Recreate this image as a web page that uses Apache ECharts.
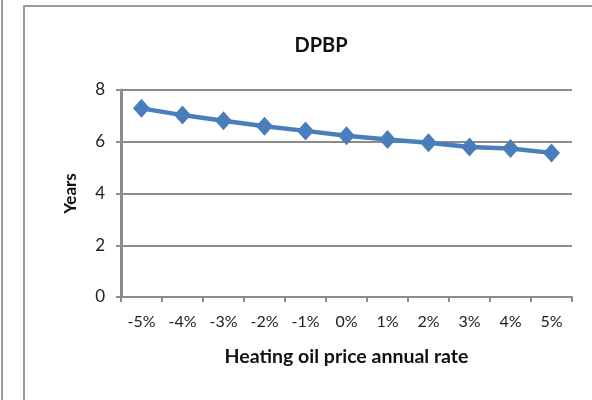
<!DOCTYPE html>
<html><head><meta charset="utf-8">
<script src="https://cdn.jsdelivr.net/npm/echarts@6/dist/echarts.min.js"></script>
<style>html,body{margin:0;padding:0;background:#fff}#c{width:592px;height:400px}</style>
</head><body><div id="c"></div>
<script>
const categories = ['-5%','-4%','-3%','-2%','-1%','0%','1%','2%','3%','4%','5%'];
const dpbp = [7.29, 7.03, 6.81, 6.60, 6.42, 6.23, 6.09, 5.96, 5.80, 5.74, 5.57];
const yTicks = [0, 2, 4, 6, 8];

const font = 'Lato, "Open Sans", sans-serif';
const chart = echarts.init(document.getElementById('c'));
chart.setOption({
  animation: false,
  backgroundColor: '#fff',
  graphic: [
    {type:'rect', shape:{x:24, y:6, width:600, height:420}, style:{fill:'none', stroke:'#9a9a9a', lineWidth:2}, z:-1},
    {type:'line', shape:{x1:2, y1:0, x2:2, y2:400}, style:{stroke:'#9a9a9a', lineWidth:2}}
  ],
  title: {
    text: 'DPBP', left: 316, top: 31, textAlign: 'center',
    textStyle: {fontFamily: font, fontSize: 20, fontWeight: 'bold', color: '#111'}
  },
  grid: {left: 121, right: 20, top: 90, bottom: 103},
  xAxis: {
    type: 'category', data: categories, boundaryGap: true,
    name: 'Heating oil price annual rate', nameLocation: 'middle', nameGap: 50,
    nameTextStyle: {fontFamily: font, fontSize: 19.5, fontWeight: 'bold', color: '#111'},
    axisLine: {lineStyle: {color: '#8c8c8c', width: 2}},
    axisTick: {show: true, alignWithLabel: false, length: 5, lineStyle: {color: '#8c8c8c', width: 2}},
    axisLabel: {fontFamily: font, fontSize: 16, color: '#222', margin: 17, interval: 0}
  },
  yAxis: {
    type: 'value', min: 0, max: 8, interval: 2,
    name: 'Years', nameLocation: 'middle', nameGap: 42,
    nameTextStyle: {fontFamily: font, fontSize: 17, fontWeight: 'bold', color: '#111'},
    axisLine: {show: true, lineStyle: {color: '#8c8c8c', width: 3}},
    axisTick: {show: true, length: 5, lineStyle: {color: '#8c8c8c', width: 2}},
    axisLabel: {fontFamily: font, fontSize: 17, color: '#222', margin: 16,
      formatter: v => yTicks.includes(v) ? String(v) : ''},
    splitLine: {lineStyle: {color: '#8c8c8c', width: 2}}
  },
  series: [{
    type: 'line', data: dpbp,
    symbol: 'diamond', symbolSize: [17, 19],
    lineStyle: {color: '#4a7ebb', width: 4.5},
    itemStyle: {color: '#4a7ebb'}
  }]
});
</script></body></html>
